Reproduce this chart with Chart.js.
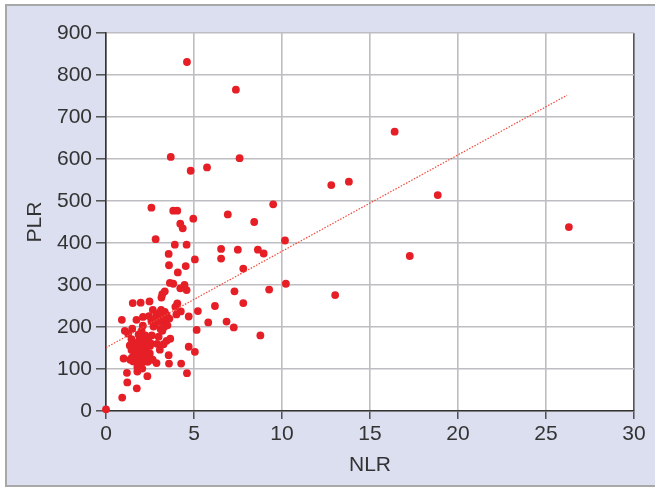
<!DOCTYPE html>
<html>
<head>
<meta charset="utf-8">
<script src="https://cdn.jsdelivr.net/npm/chart.js@4"></script>
<style>
  body { margin: 0; background: #fff; overflow: hidden; }
  #frame { position: absolute; left: 5px; top: 4px; width: 670px; height: 479px;
           border: 2px solid #a8a8a8; background: #dcdfef; }
  #wrap { position: absolute; left: 0; top: 0; width: 655px; height: 487px; }
</style>
</head>
<body>
<div id="frame"></div>
<div id="wrap"><canvas id="plrChart" width="655" height="487"></canvas></div>
<script>
// NLR (x) vs PLR (y)
const nlr = [
    0, 4.6, 7.38, 16.4, 3.68, 7.59, 4.81, 5.74, 12.8, 13.8,
    18.85, 9.5, 2.58, 3.82, 4.05, 4.96, 6.92, 4.22, 4.36, 8.42,
    26.3, 2.82, 10.17, 3.91, 4.58, 6.54, 7.49, 8.63, 8.96, 3.56,
    5.05, 6.54, 17.26, 3.58, 4.53, 7.8, 4.08, 3.63, 3.82, 4.46,
    10.22, 4.22, 4.58, 9.27, 7.3, 3.34, 3.2, 3.15, 13.02, 1.52,
    1.97, 2.47, 7.8, 6.19, 4.05, 3.94, 5.22, 4.25, 4.0, 4.7,
    2.66, 2.87, 3.13, 3.34, 2.1, 2.44, 3.15, 2.58, 2.96, 3.39,
    0.9, 1.73, 6.85, 5.81, 3.49, 2.7, 2.09, 1.49, 7.26, 1.07,
    1.26, 2.02, 3.2, 5.15, 8.77, 2.23, 2.99, 1.45, 3.65, 3.44,
    2.13, 2.4, 1.61, 2.54, 1.35, 1.92, 3.27, 3.06, 4.7, 5.05,
    1.45, 2.02, 1.66, 2.2, 2.49, 3.56, 1.83, 1.47, 1.0, 2.13,
    2.4, 1.78, 1.38, 2.04, 2.37, 2.87, 3.58, 4.27, 1.78, 2.06,
    1.19, 1.78, 4.6, 2.35, 1.21, 1.75, 0.92,
    2.2, 1.9, 2.6, 2.8, 3.0, 3.6, 3.2, 2.3, 1.7, 2.0,
    2.5, 2.9, 3.3, 3.1, 2.75, 1.55, 2.25, 3.45, 2.65, 1.85
];
const plr = [
    4, 831, 765, 665, 605, 602, 572, 580, 538, 546,
    514, 492, 484, 477, 477, 458, 468, 446, 435, 450,
    438, 409, 406, 396, 396, 386, 384, 384, 375, 374,
    361, 363, 369, 347, 345, 339, 330, 305, 303, 300,
    303, 292, 288, 289, 285, 285, 278, 270, 276, 257,
    258, 261, 257, 250, 256, 248, 238, 237, 230, 225,
    241, 230, 241, 236, 224, 226, 224, 214, 212, 218,
    217, 217, 213, 211, 204, 201, 203, 196, 199, 191,
    184, 191, 191, 193, 180, 180, 177, 171, 172, 167,
    165, 170, 162, 161, 156, 155, 159, 146, 153, 141,
    145, 143, 137, 137, 137, 133, 133, 127, 125, 126,
    125, 119, 122, 115, 117, 114, 113, 113, 105, 101,
    91, 94, 90, 83, 68, 54, 32,
    150, 170, 180, 220, 233, 220, 215, 140, 150, 132,
    155, 160, 200, 195, 205, 118, 128, 228, 122, 182
];
// regression line end points
const trendX = [0, 26.2];
const trendY = [151, 752];

const xTicks = [0, 5, 10, 15, 20, 25, 30];
const yTicks = [0, 100, 200, 300, 400, 500, 600, 700, 800, 900];

const points = nlr.map((v, i) => ({ x: v, y: plr[i] }));
const trend = trendX.map((v, i) => ({ x: v, y: trendY[i] }));

// white plot area
const plotBg = {
    id: 'plotBg',
    beforeDraw(chart) {
        const a = chart.chartArea;
        const c = chart.ctx;
        c.save();
        c.fillStyle = '#ffffff';
        c.fillRect(a.left, a.top, a.right - a.left, a.bottom - a.top);
        c.restore();
    }
};

const tickFont = { family: 'Liberation Sans, Arial, sans-serif', size: 21 };

new Chart(document.getElementById('plrChart').getContext('2d'), {
    type: 'scatter',
    data: {
        datasets: [
            {
                label: 'PLR',
                data: points,
                backgroundColor: '#e61f27',
                borderColor: '#e61f27',
                borderWidth: 0,
                pointRadius: 3.9,
                pointHoverRadius: 3.9,
                clip: false,
                order: 2
            },
            {
                type: 'line',
                label: 'trend',
                data: trend,
                borderColor: '#ef4a3a',
                borderWidth: 1.2,
                borderDash: [1.5, 1.5],
                pointRadius: 0,
                fill: false,
                order: 1
            }
        ]
    },
    options: {
        responsive: false,
        animation: false,
        layout: { autoPadding: false, padding: { top: 33, right: 21, bottom: 0, left: 0 } },
        plugins: { legend: { display: false }, tooltip: { enabled: false } },
        scales: {
            x: {
                type: 'linear',
                min: 0, max: 30,
                afterBuildTicks: s => { s.ticks = xTicks.map(v => ({ value: v })); },
                afterFit: s => { s.height = 76; },
                grid: {
                    color: ctx => ctx.tick && ctx.tick.value === 30 ? '#555' : '#bdbdc2',
                    lineWidth: 1.6,
                    tickLength: 8,
                    tickColor: '#444',
                    tickWidth: 1.4
                },
                border: { color: '#333', width: 1.6 },
                ticks: { color: '#333', font: tickFont, padding: 3, maxRotation: 0 },
                title: {
                    display: true, text: 'NLR', color: '#333',
                    font: { family: 'Liberation Sans, Arial, sans-serif', size: 21 },
                    padding: { top: 0, bottom: 9 }
                }
            },
            y: {
                type: 'linear',
                min: 0, max: 900,
                afterBuildTicks: s => { s.ticks = yTicks.map(v => ({ value: v })); },
                afterFit: s => { s.width = 106; },
                grid: {
                    color: '#bdbdc2',
                    lineWidth: 1.6,
                    tickLength: 10,
                    tickColor: '#444',
                    tickWidth: 1.4
                },
                border: { color: '#333', width: 1.6 },
                ticks: { color: '#333', font: tickFont, padding: 4 },
                title: {
                    display: true, text: 'PLR', color: '#333',
                    font: { family: 'Liberation Sans, Arial, sans-serif', size: 21 },
                    padding: { top: 23, bottom: 0 }
                }
            }
        }
    },
    plugins: [plotBg]
});
</script>
</body>
</html>
